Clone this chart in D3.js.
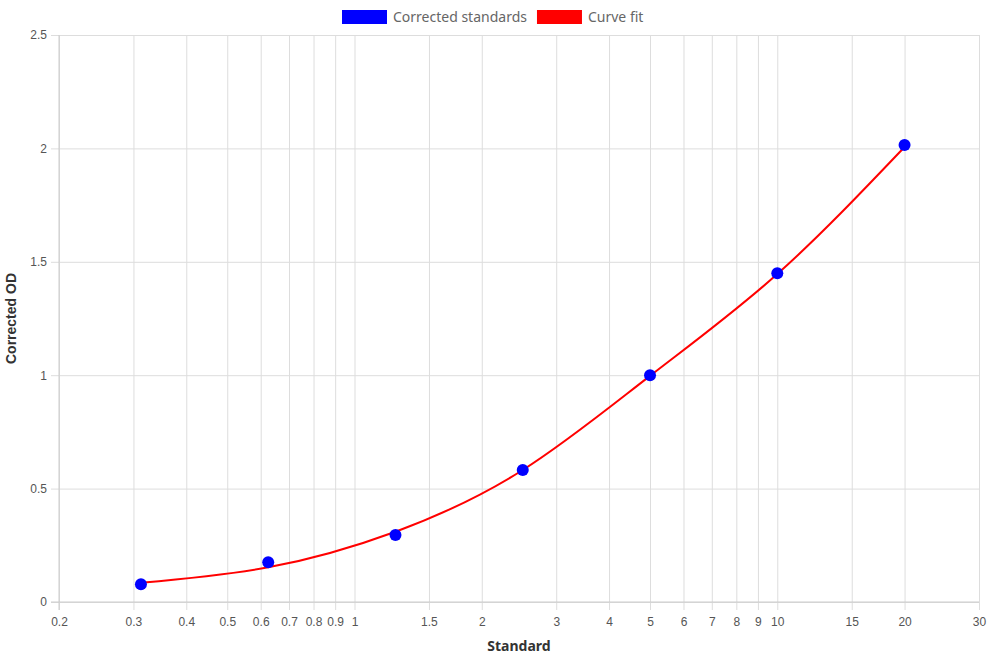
<!DOCTYPE html>
<html>
<head>
<meta charset="utf-8">
<script src="https://cdn.jsdelivr.net/npm/d3@7"></script>
<style>
  body { margin: 0; background: #fff; }
  #chart { width: 990px; height: 660px; }
</style>
</head>
<body>
<div id="chart"></div>
<script>
// standards (x) and their corrected OD (y)
var stdConc = [0.3125, 0.625, 1.25, 2.5, 5, 10, 20];
var stdOD = [0.078, 0.175, 0.295, 0.582, 1.0, 1.449, 2.015];

// curve fit at the standards
var fitConc = [0.3125, 0.625, 1.25, 2.5, 5, 10, 20];
var fitOD = [0.085, 0.153, 0.31, 0.582, 0.997, 1.446, 2.006];

var xTicks = [0.2, 0.3, 0.4, 0.5, 0.6, 0.7, 0.8, 0.9, 1, 1.5, 2, 3, 4, 5, 6, 7, 8, 9, 10, 15, 20, 30];
var yTicks = [0, 0.5, 1, 1.5, 2, 2.5];

var seriesNames = ['Corrected standards', 'Curve fit'];
var seriesColors = ['#0000ff', '#ff0000'];

(function() {
    var width = 990, height = 660;
    var pl = 59, pr = 979, pt = 35, pb = 602;

    var svg = d3.select('#chart').append('svg')
        .attr('width', width)
        .attr('height', height);

    var x = d3.scaleLog().domain([0.2, 30]).range([pl, pr]);
    var y = d3.scaleLinear().domain([0, 2.5]).range([pb, pt]);

    var gridColor = '#dddddd';
    var tickFont = '"Liberation Sans", Arial, sans-serif';
    var labelFont = '"Noto Sans", sans-serif';

    // y grid + labels
    var yAxis = svg.append('g')
        .attr('transform', 'translate(' + pl + ',0)')
        .call(d3.axisLeft(y).tickValues(yTicks).tickSize(-(pr - pl)).tickSizeOuter(0)
            .tickFormat(function(d) { return d; }));
    yAxis.select('.domain').remove();
    yAxis.selectAll('.tick line').attr('stroke', gridColor).attr('x1', -8);
    yAxis.selectAll('.tick text')
        .style('font', '12px ' + tickFont).attr('fill', '#555')
        .attr('x', -12);

    // x grid + labels
    var xAxis = svg.append('g')
        .attr('transform', 'translate(0,' + pb + ')')
        .call(d3.axisBottom(x).tickValues(xTicks).tickSize(-(pb - pt)).tickSizeOuter(0)
            .tickFormat(function(d) { return d; }));
    xAxis.select('.domain').remove();
    xAxis.selectAll('.tick line').attr('stroke', gridColor).attr('y1', 8);
    xAxis.selectAll('.tick text')
        .style('font', '12px ' + tickFont).attr('fill', '#555')
        .attr('y', 15);

    // axis lines
    svg.append('line').attr('x1', pl).attr('x2', pl).attr('y1', pt).attr('y2', pb + 8)
        .attr('stroke', '#cccccc');
    svg.append('line').attr('x1', pl - 8).attr('x2', pr).attr('y1', pb).attr('y2', pb)
        .attr('stroke', '#cccccc');

    // axis titles
    svg.append('text')
        .attr('x', (pl + pr) / 2).attr('y', 651)
        .attr('text-anchor', 'middle')
        .style('font', 'bold 14px ' + labelFont)
        .attr('fill', '#333')
        .text('Standard');
    svg.append('text')
        .attr('transform', 'translate(16,' + (pt + pb) / 2 + ') rotate(-90)')
        .attr('text-anchor', 'middle')
        .style('font', 'bold 14px ' + tickFont)
        .attr('fill', '#333')
        .text('Corrected OD');

    // curve
    var line = d3.line()
        .x(function(d, i) { return x(fitConc[i]); })
        .y(function(d) { return y(d); })
        .curve(d3.curveNatural);
    svg.append('path')
        .datum(fitOD)
        .attr('d', line)
        .attr('fill', 'none')
        .attr('stroke', seriesColors[1])
        .attr('stroke-width', 2);

    // points
    svg.selectAll('.pt').data(stdOD).enter().append('circle')
        .attr('class', 'pt')
        .attr('cx', function(d, i) { return x(stdConc[i]); })
        .attr('cy', function(d) { return y(d); })
        .attr('r', 6)
        .attr('fill', seriesColors[0]);

    // legend
    var lx = 342;
    seriesNames.forEach(function(name, i) {
        var g = svg.append('g').attr('transform', 'translate(' + lx + ',10)');
        g.append('rect').attr('width', 45).attr('height', 14).attr('fill', seriesColors[i]);
        var t = g.append('text')
            .attr('x', 51).attr('y', 12)
            .style('font', '14px ' + labelFont)
            .attr('fill', '#666')
            .text(name);
        lx += 51 + t.node().getComputedTextLength() + 10;
    });
})();
</script>
</body>
</html>
